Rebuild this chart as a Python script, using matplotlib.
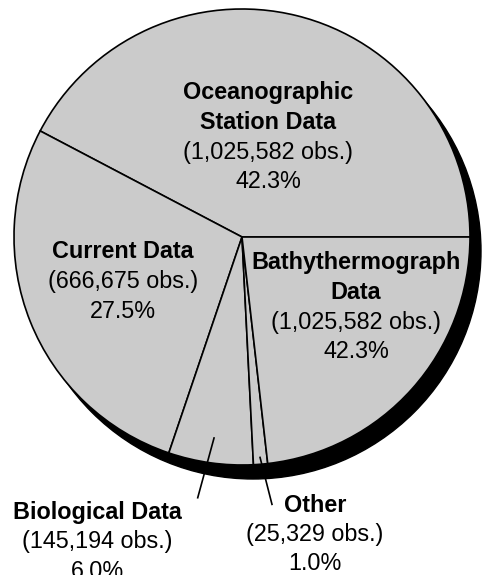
import matplotlib.pyplot as plt
from matplotlib.patches import Circle
import numpy as np

plt.rcParams['font.family'] = ['Liberation Sans', 'DejaVu Sans']

# slice data (drawn shares, counter-clockwise from 3 o'clock)
names = ['Oceanographic\nStation Data', 'Current Data', 'Biological Data', 'Other', 'Bathythermograph\nData']
obs_text = ['1,025,582', '666,675', '145,194', '25,329', '1,025,582']
pct_text = ['42.3', '27.5', '6.0', '1.0', '42.3']
shares = [42.3, 27.5, 6.0, 1.0, 23.2]

W, H = 482, 575
fig = plt.figure(figsize=(W / 100, H / 100), dpi=100)
ax = fig.add_axes([0, 0, 1, 1])
ax.axis('off')

cx, cy, R = 242, H - 237, 228
fill = '#cbcbcb'

# drop shadow
ax.add_patch(Circle((cx + 11, cy - 14), R, color='black', zorder=1))

wedges, _ = ax.pie(shares, startangle=0, counterclock=True, center=(cx, cy), radius=R,
                   colors=[fill] * len(shares),
                   wedgeprops=dict(edgecolor='black', linewidth=1.2))
for w in wedges:
    w.set_zorder(2)
ax.set_xlim(0, W)
ax.set_ylim(0, H)
ax.set_aspect('auto')

fs = 16.8
step = 29.5


def block(x, y_top, title_lines, rest_lines):
    y = y_top
    for t in title_lines:
        ax.text(x, H - y, t, ha='center', va='center', fontsize=fs, fontweight='bold', zorder=5)
        y += step
    for t in rest_lines:
        ax.text(x, H - y, t, ha='center', va='center', fontsize=fs, zorder=5)
        y += step


label_pos = [(268, 93), (123, 252), (97, 512), (315, 505), (356, 263)]
for name, obs, pct, (x, y) in zip(names, obs_text, pct_text, label_pos):
    block(x, y, name.split('\n'), ['(%s obs.)' % obs, '%s%%' % pct])

# leader lines for the two small outside labels
leaders = {2: (0.89, 1.16, -0.03), 3: (0.97, 1.18, 0.03)}
for i, (r0, r1, tilt) in leaders.items():
    w = wedges[i]
    a = np.deg2rad((w.theta1 + w.theta2) / 2)
    ax.plot([cx + r0 * R * np.cos(a), cx + r1 * R * np.cos(a + tilt)],
            [cy + r0 * R * np.sin(a), cy + r1 * R * np.sin(a + tilt)],
            color='black', lw=1.2, zorder=6)

fig.savefig('out.png', dpi=100)
